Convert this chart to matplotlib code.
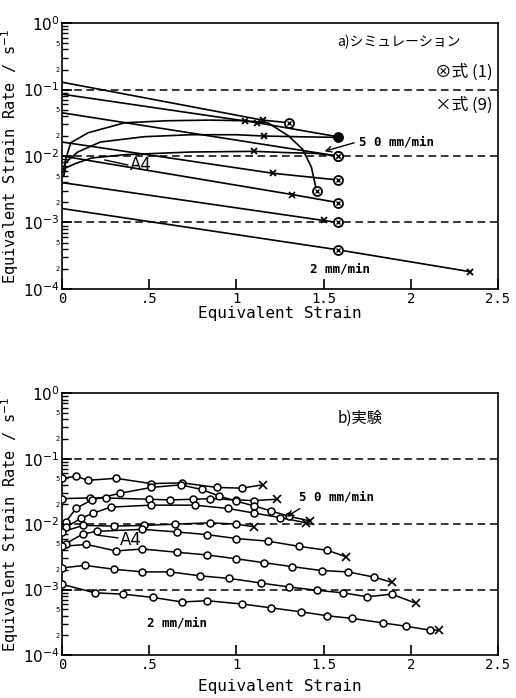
import numpy as np
import matplotlib.pyplot as plt

plt.rcParams['font.family'] = ['DejaVu Sans Mono', 'Noto Sans CJK JP']
JP = ['Noto Sans CJK JP', 'DejaVu Sans']

# a) simulation -- strain, log10(strain rate / s^-1), marker per point
# marker codes: '-' none, 'x' eq.(9), 'o' eq.(1) (circled cross), '.' filled
sim_x = [
    [0, 1.15, 1.30],
    [0, 1.12, 1.58],
    [0, 1.58],
    [0, 1.21, 1.58],
    [0, 1.32, 1.58],
    [0, 1.50, 1.58],
    [0, 1.58, 2.34],
    # A4 curves
    [0.01, 0.02, 0.05, 0.15, 0.36, 0.6, 0.85, 1.05, 1.18, 1.30, 1.38, 1.43, 1.46],
    [0.01, 0.02, 0.09, 0.22, 0.47, 0.74, 1.0, 1.16, 1.35, 1.58],
    [0.01, 0.02, 0.08, 0.17, 0.36, 0.74, 1.10, 1.30, 1.45, 1.58],
]
sim_logr = [
    [-0.89, -1.46, -1.50],
    [-1.07, -1.50, -1.71],
    [-1.35, -2.00],
    [-1.79, -2.26, -2.36],
    [-2.00, -2.58, -2.70],
    [-2.40, -2.97, -3.00],
    [-2.79, -3.41, -3.74],
    [-2.20, -2.06, -1.80, -1.65, -1.50, -1.47, -1.46, -1.47, -1.50, -1.70, -1.90, -2.17, -2.53],
    [-2.25, -2.10, -1.94, -1.79, -1.71, -1.68, -1.68, -1.70, -1.71, -1.72],
    [-2.30, -2.18, -2.11, -2.03, -1.98, -1.94, -1.93, -1.95, -1.96, -2.00],
]
sim_marks = ["-xo", "-x.", "-o", "-xo", "-xo", "-xo", "-ox",
             "-------x----o", "-------x-.", "------x--o"]

# b) experiment -- circles, last point (fracture) as x
exp_x = [
    [0, 0.08, 0.15, 0.31, 0.51, 0.69, 0.89, 1.03, 1.15],
    [0, 0.16, 0.25, 0.5, 0.62, 0.75, 0.85, 1.0, 1.1, 1.23],
    [0.02, 0.08, 0.17, 0.33, 0.51, 0.68, 0.80, 0.90, 1.0, 1.1, 1.2, 1.3, 1.42],
    [0.02, 0.11, 0.18, 0.28, 0.51, 0.76, 0.95, 1.1, 1.25, 1.4],
    [0, 0.12, 0.30, 0.47, 0.65, 0.85, 1.0, 1.10],
    [0.02, 0.12, 0.2, 0.46, 0.66, 0.83, 1.0, 1.18, 1.36, 1.52, 1.63],
    [0, 0.14, 0.31, 0.46, 0.66, 0.83, 1.0, 1.16, 1.32, 1.49, 1.64, 1.79, 1.89],
    [0, 0.13, 0.30, 0.46, 0.62, 0.79, 0.96, 1.14, 1.30, 1.46, 1.61, 1.75, 1.89, 2.03],
    [0, 0.19, 0.35, 0.52, 0.69, 0.83, 1.03, 1.20, 1.37, 1.52, 1.66, 1.84, 1.97, 2.11, 2.16],
]
exp_logr = [
    [-1.30, -1.27, -1.33, -1.30, -1.38, -1.37, -1.44, -1.45, -1.40],
    [-1.61, -1.60, -1.60, -1.62, -1.63, -1.62, -1.61, -1.63, -1.64, -1.62],
    [-1.97, -1.76, -1.63, -1.53, -1.44, -1.40, -1.47, -1.57, -1.65, -1.72, -1.80, -1.88, -1.95],
    [-2.05, -1.91, -1.83, -1.74, -1.71, -1.71, -1.76, -1.83, -1.90, -1.98],
    [-2.12, -2.02, -2.03, -2.02, -2.00, -1.98, -2.00, -2.04],
    [-2.30, -2.15, -2.11, -2.08, -2.12, -2.16, -2.22, -2.26, -2.34, -2.40, -2.50],
    [-2.34, -2.31, -2.41, -2.38, -2.43, -2.47, -2.53, -2.59, -2.65, -2.71, -2.73, -2.81, -2.89],
    [-2.67, -2.63, -2.69, -2.73, -2.73, -2.79, -2.83, -2.90, -2.96, -3.01, -3.05, -3.11, -3.07, -3.21],
    [-2.92, -3.05, -3.07, -3.12, -3.19, -3.17, -3.22, -3.28, -3.34, -3.40, -3.44, -3.51, -3.56, -3.62, -3.62],
]

xticks = [0, 0.5, 1, 1.5, 2, 2.5]
xticklabels = ['0', '.5', '1', '1.5', '2', '2.5']
decades = [-4, -3, -2, -1, 0]
guide_decades = [-1, -2, -3]


def style_axes(ax, xlabel_y):
    ax.set_yscale('log')
    ax.set_xlim(0, 2.5)
    ax.set_ylim(1e-4, 1)
    ax.set_xticks(xticks)
    ax.set_xticklabels(xticklabels, fontsize=10)
    ax.set_yticks([10.0 ** d for d in decades])
    ax.set_yticklabels([f'$10^{{{d}}}$' for d in decades], fontsize=11)
    minor = [k * 10.0 ** d for d in decades[:-1] for k in range(2, 10)]
    labels = []
    for d in decades[:-1]:
        for k in range(2, 10):
            labels.append(str(k) if k in (2, 5) else '')
    ax.set_yticks(minor, minor=True)
    ax.set_yticklabels(labels, minor=True, fontsize=5)
    ax.tick_params(which='major', direction='in', length=7, width=1.2, pad=2)
    ax.tick_params(which='minor', direction='in', length=4, width=1.0, pad=2)
    for s in ax.spines.values():
        s.set_linewidth(1.2)
    for d in guide_decades:
        ax.axhline(10.0 ** d, color='k', ls=(0, (5, 3)), lw=1.1, zorder=1)
    ax.set_ylabel('Equivalent Strain Rate / s$^{-1}$', fontsize=11)
    ax.yaxis.set_label_coords(-0.094, 0.5)
    ax.set_xlabel('Equivalent Strain', fontsize=11.5)
    ax.xaxis.set_label_coords(0.5, xlabel_y)


fig = plt.figure(figsize=(5.16, 6.98), dpi=100)
axa = fig.add_axes([0.1202, 0.586, 0.845, 0.381])
axb = fig.add_axes([0.1202, 0.0616, 0.845, 0.375])

# panel a
for x, lr, marks in zip(sim_x, sim_logr, sim_marks):
    r = 10.0 ** np.array(lr)
    axa.plot(x, r, color='k', lw=1.2, zorder=2)
    for xi, ri, m in zip(x, r, marks):
        if m == 'x':
            axa.plot(xi, ri, marker='x', color='k', ms=5, mew=1.3, zorder=3)
        elif m == 'o':
            axa.plot(xi, ri, marker='o', mfc='white', mec='k', ms=6.5, mew=1.3, zorder=3)
            axa.plot(xi, ri, marker='x', color='k', ms=3.5, mew=1.0, zorder=4)
        elif m == '.':
            axa.plot(xi, ri, marker='o', color='k', ms=6.5, zorder=3)

style_axes(axa, -0.064)
axa.text(1.93, 10 ** -0.29, 'a)シミュレーション', ha='center', va='center', fontsize=10, family=JP)
axa.text(2.47, 10 ** -0.74, '⊗式 (1)', ha='right', va='center', fontsize=12, family=JP)
axa.text(2.47, 10 ** -1.23, '×式 (9)', ha='right', va='center', fontsize=12, family=JP)
axa.text(1.70, 10 ** -1.79, '5 0 mm/min', ha='left', va='center', fontsize=9, weight='bold')
axa.annotate('', xy=(1.49, 10 ** -1.94), xytext=(1.69, 10 ** -1.79),
             arrowprops=dict(arrowstyle='->', color='k', lw=1.0))
axa.text(1.42, 10 ** -3.70, '2 mm/min', ha='left', va='center', fontsize=9, weight='bold')
axa.plot([0.246, 0.377], [10 ** -2.06, 10 ** -2.135], color='k', lw=1.0)
axa.text(0.39, 10 ** -2.14, 'A4', ha='left', va='center', fontsize=12, family='DejaVu Sans')

# panel b
for x, lr in zip(exp_x, exp_logr):
    r = 10.0 ** np.array(lr)
    axb.plot(x, r, color='k', lw=1.1, zorder=2)
    axb.plot(x[:-1], r[:-1], ls='none', marker='o', mfc='white', mec='k', ms=5, mew=1.1, zorder=3)
    axb.plot(x[-1], r[-1], marker='x', color='k', ms=5.5, mew=1.2, zorder=3)

style_axes(axb, -0.092)
axb.text(1.71, 10 ** -0.38, 'b)実験', ha='center', va='center', fontsize=11, family=JP)
axb.text(1.36, 10 ** -1.59, '5 0 mm/min', ha='left', va='center', fontsize=9, weight='bold')
axb.annotate('', xy=(1.274, 10 ** -1.91), xytext=(1.377, 10 ** -1.74),
             arrowprops=dict(arrowstyle='->', color='k', lw=1.0))
axb.text(0.66, 10 ** -3.51, '2 mm/min', ha='center', va='center', fontsize=9, weight='bold')
axb.plot([0.206, 0.32], [10 ** -2.17, 10 ** -2.21], color='k', lw=1.0)
axb.text(0.33, 10 ** -2.24, 'A4', ha='left', va='center', fontsize=12, family='DejaVu Sans')

fig.savefig('out.png', dpi=100)
